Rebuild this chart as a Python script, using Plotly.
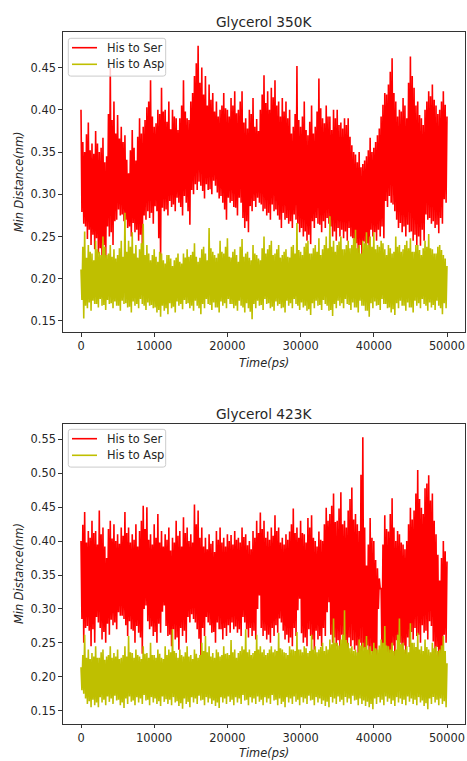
import numpy as np
import plotly.graph_objects as go

# Minimum distance traces in picometres, sampled on a 125 ps grid:
# local maxima (hi) at 0, 250, 500, ... ps and local minima (lo) at 125, 375, ... ps.
step_ps = 250

# ---- Glycerol 350K ----
ser350_hi = [
    400, 362, 350, 371, 385, 352, 360, 348, 375, 360, 350, 355, 367, 338, 345, 395, 450, 388, 410, 372,
    394, 366, 380, 362, 370, 341, 325, 352, 376, 355, 340, 368, 390, 372, 380, 388, 403, 410, 435, 392,
    380, 384, 400, 395, 426, 398, 400, 386, 410, 377, 400, 392, 390, 376, 390, 405, 435, 398, 390, 388,
    410, 420, 440, 455, 476, 432, 450, 418, 440, 405, 430, 412, 420, 398, 410, 392, 400, 405, 420, 402,
    400, 392, 414, 405, 422, 396, 400, 410, 422, 385, 390, 378, 400, 395, 414, 380, 389, 375, 400, 418,
    441, 408, 422, 400, 426, 415, 435, 405, 410, 392, 414, 398, 410, 390, 400, 372, 380, 395, 452, 388,
    380, 392, 410, 376, 370, 386, 405, 372, 380, 398, 437, 402, 390, 384, 405, 392, 392, 376, 400, 390,
    400, 382, 385, 378, 390, 382, 390, 368, 358, 350, 347, 338, 350, 332, 336, 340, 345, 352, 367, 350,
    355, 362, 370, 378, 392, 406, 420, 418, 430, 445, 461, 420, 410, 392, 400, 398, 414, 405, 390, 432,
    463, 440, 426, 405, 410, 394, 390, 382, 400, 410, 422, 416, 430, 412, 405, 395, 400, 410, 422, 406,
    392,
]
ser350_lo = [
    279, 265, 262, 247, 258, 240, 252, 235, 248, 230, 236, 217, 240, 222, 262, 250, 255, 240, 268, 270,
    282, 275, 276, 268, 270, 260, 262, 250, 266, 255, 258, 245, 252, 240, 275, 270, 280, 272, 278, 265,
    286, 280, 248, 222, 284, 280, 282, 275, 292, 285, 288, 280, 296, 290, 285, 275, 298, 290, 280, 264,
    305, 300, 312, 305, 315, 310, 304, 295, 312, 305, 306, 300, 316, 310, 302, 295, 298, 290, 282, 270,
    296, 290, 292, 285, 284, 275, 296, 290, 272, 260, 268, 255, 286, 280, 292, 285, 296, 290, 288, 280,
    283, 275, 278, 270, 288, 280, 282, 275, 270, 260, 278, 270, 272, 265, 268, 260, 276, 270, 265, 255,
    260, 250, 256, 245, 252, 241, 268, 260, 272, 265, 264, 255, 268, 260, 272, 265, 262, 250, 256, 245,
    260, 250, 258, 248, 256, 245, 260, 250, 248, 235, 242, 230, 240, 228, 244, 232, 242, 230, 258, 250,
    255, 245, 258, 250, 262, 248, 292, 285, 298, 290, 288, 280, 270, 260, 266, 255, 262, 250, 264, 255,
    256, 245, 252, 240, 250, 239, 258, 245, 276, 270, 272, 265, 268, 260, 264, 254, 272, 265, 294, 290,
]
asp350_hi = [
    211, 238, 256, 225, 240, 232, 230, 222, 245, 235, 232, 228, 250, 238, 228, 230, 240, 226, 235, 224,
    228, 236, 245, 226, 278, 232, 245, 238, 255, 230, 240, 225, 235, 242, 265, 228, 240, 230, 222, 228,
    235, 226, 220, 232, 230, 222, 218, 228, 228, 224, 215, 222, 225, 230, 220, 218, 230, 225, 235, 226,
    228, 232, 242, 226, 220, 225, 235, 238, 230, 222, 260, 236, 232, 228, 225, 230, 245, 232, 230, 238,
    248, 226, 225, 232, 235, 228, 220, 238, 247, 226, 230, 232, 225, 222, 240, 230, 228, 224, 222, 236,
    250, 230, 235, 240, 245, 228, 230, 235, 240, 225, 228, 232, 235, 226, 225, 238, 240, 230, 266, 234,
    232, 228, 238, 242, 245, 230, 230, 236, 240, 232, 248, 228, 235, 240, 250, 236, 274, 238, 245, 232,
    240, 244, 250, 235, 235, 240, 245, 236, 240, 248, 258, 236, 240, 230, 245, 242, 255, 240, 250, 238,
    255, 235, 240, 238, 245, 242, 235, 228, 240, 236, 230, 232, 250, 238, 240, 232, 235, 240, 245, 236,
    248, 232, 232, 240, 240, 234, 228, 236, 245, 238, 253, 236, 235, 230, 230, 238, 240, 234, 228, 224,
    215,
]
asp350_lo = [
    175, 153, 168, 165, 172, 162, 174, 170, 170, 166, 176, 168, 169, 163, 175, 170, 171, 165, 173, 168,
    168, 162, 174, 170, 171, 166, 167, 160, 173, 168, 170, 165, 176, 170, 168, 163, 172, 168, 169, 165,
    166, 160, 163, 155, 168, 162, 165, 158, 171, 165, 167, 160, 173, 168, 170, 164, 175, 170, 171, 165,
    168, 162, 174, 168, 165, 158, 170, 165, 176, 170, 169, 163, 172, 166, 166, 160, 173, 168, 171, 165,
    176, 170, 170, 165, 168, 162, 174, 168, 166, 160, 171, 165, 161, 152, 170, 165, 174, 168, 169, 163,
    176, 170, 171, 165, 167, 162, 173, 168, 170, 165, 166, 160, 174, 168, 171, 165, 176, 170, 168, 163,
    172, 166, 168, 162, 164, 157, 171, 165, 174, 168, 169, 163, 175, 170, 168, 162, 163, 156, 170, 165,
    174, 168, 171, 165, 176, 170, 169, 163, 172, 166, 166, 160, 174, 168, 168, 162, 162, 155, 171, 165,
    173, 168, 169, 163, 176, 170, 170, 165, 166, 160, 164, 157, 171, 165, 174, 168, 168, 162, 172, 166,
    166, 160, 174, 168, 171, 165, 176, 170, 168, 162, 172, 166, 169, 163, 174, 168, 165, 158, 171, 165,
]

# ---- Glycerol 423K ----
ser423_hi = [
    400, 424, 443, 398, 415, 405, 430, 412, 415, 395, 445, 410, 420, 392, 375, 418, 430, 404, 425, 400,
    410, 396, 420, 408, 443, 412, 420, 398, 410, 402, 425, 392, 415, 430, 452, 418, 450, 402, 410, 395,
    425, 405, 440, 398, 415, 392, 410, 402, 420, 386, 405, 398, 430, 408, 415, 392, 435, 412, 420, 400,
    410, 398, 454, 425, 445, 405, 420, 392, 405, 388, 410, 396, 400, 384, 415, 402, 420, 398, 405, 392,
    410, 400, 409, 395, 415, 402, 405, 398, 420, 406, 410, 394, 400, 388, 415, 405, 430, 412, 442, 418,
    430, 405, 414, 402, 420, 408, 438, 415, 420, 398, 405, 395, 410, 402, 414, 425, 448, 412, 420, 405,
    430, 412, 410, 398, 434, 420, 438, 405, 400, 392, 414, 402, 400, 425, 449, 430, 440, 452, 470, 428,
    430, 448, 472, 425, 430, 420, 445, 462, 479, 432, 440, 425, 415, 498, 553, 420, 364, 395, 434, 405,
    400, 372, 360, 345, 330, 395, 438, 418, 414, 440, 463, 420, 400, 415, 410, 398, 395, 388, 400, 425,
    449, 432, 445, 470, 505, 462, 449, 440, 478, 485, 497, 460, 470, 430, 410, 380, 342, 375, 400, 385,
    370,
]
ser423_lo = [
    285, 250, 272, 275, 268, 245, 270, 250, 288, 280, 272, 255, 266, 250, 278, 262, 284, 276, 280, 270,
    295, 290, 290, 285, 276, 260, 282, 270, 268, 250, 275, 265, 258, 234, 300, 305, 282, 270, 274, 260,
    266, 250, 278, 265, 296, 305, 275, 260, 262, 245, 270, 255, 258, 240, 272, 260, 268, 250, 288, 280,
    292, 285, 280, 270, 256, 231, 272, 260, 288, 280, 276, 265, 266, 250, 280, 270, 270, 255, 272, 260,
    276, 265, 280, 270, 274, 265, 270, 260, 288, 280, 270, 258, 272, 260, 268, 255, 300, 320, 272, 260,
    268, 255, 262, 250, 272, 260, 276, 265, 286, 280, 268, 255, 262, 250, 258, 245, 272, 260, 298, 315,
    264, 250, 258, 245, 270, 260, 255, 240, 268, 255, 260, 245, 272, 260, 295, 310, 262, 250, 258, 245,
    254, 240, 262, 250, 250, 235, 258, 245, 254, 240, 246, 230, 250, 235, 242, 224, 246, 230, 238, 220,
    232, 215, 300, 330, 234, 214, 238, 220, 232, 215, 246, 230, 254, 240, 250, 235, 246, 230, 258, 244,
    266, 255, 272, 260, 262, 250, 276, 265, 268, 255, 282, 275, 252, 234, 244, 225, 232, 210, 262, 250,
]
asp423_hi = [
    214, 232, 262, 228, 240, 226, 235, 230, 245, 228, 228, 236, 240, 225, 230, 232, 245, 228, 235, 230,
    240, 226, 228, 232, 245, 230, 260, 236, 235, 228, 240, 232, 230, 226, 245, 234, 235, 228, 250, 232,
    232, 228, 240, 234, 228, 226, 245, 232, 240, 236, 270, 238, 235, 228, 240, 232, 230, 236, 245, 230,
    232, 226, 240, 234, 228, 232, 250, 238, 260, 236, 245, 230, 235, 228, 240, 236, 230, 232, 245, 234,
    235, 232, 254, 236, 240, 228, 235, 238, 245, 240, 270, 236, 240, 232, 235, 238, 262, 240, 245, 236,
    240, 232, 235, 240, 245, 236, 240, 238, 265, 242, 240, 236, 235, 232, 245, 240, 240, 238, 266, 240,
    240, 236, 245, 242, 235, 238, 262, 240, 245, 236, 240, 244, 250, 238, 245, 240, 255, 248, 286, 250,
    250, 246, 255, 262, 298, 254, 250, 242, 245, 238, 240, 236, 255, 246, 250, 244, 260, 240, 245, 238,
    250, 242, 240, 246, 255, 250, 275, 246, 245, 240, 250, 238, 240, 262, 286, 248, 250, 240, 245, 236,
    279, 250, 250, 244, 265, 240, 245, 238, 255, 244, 240, 236, 250, 242, 245, 238, 240, 246, 260, 238,
    220,
]
asp423_lo = [
    180, 175, 168, 160, 164, 155, 166, 158, 162, 155, 170, 162, 166, 158, 171, 163, 168, 160, 172, 165,
    166, 158, 162, 154, 168, 160, 171, 163, 165, 158, 170, 162, 168, 160, 173, 165, 166, 158, 170, 162,
    168, 160, 164, 157, 171, 163, 167, 160, 166, 158, 170, 162, 164, 157, 161, 153, 168, 160, 163, 155,
    170, 162, 168, 160, 172, 165, 166, 158, 170, 162, 168, 160, 165, 157, 162, 154, 170, 162, 168, 160,
    171, 163, 166, 158, 170, 162, 168, 160, 173, 165, 166, 158, 170, 162, 168, 160, 171, 163, 166, 158,
    170, 162, 168, 160, 173, 165, 166, 158, 168, 160, 163, 155, 170, 162, 168, 160, 171, 163, 166, 158,
    170, 162, 168, 160, 172, 165, 166, 158, 170, 162, 168, 160, 165, 157, 163, 155, 170, 162, 168, 160,
    171, 163, 166, 158, 170, 162, 168, 160, 172, 165, 166, 158, 168, 160, 165, 157, 163, 155, 160, 152,
    168, 160, 170, 162, 166, 158, 171, 163, 168, 160, 165, 157, 170, 162, 168, 160, 166, 158, 171, 163,
    168, 160, 166, 158, 170, 162, 165, 157, 161, 152, 168, 160, 170, 162, 166, 158, 168, 160, 164, 155,
]

x_ticks = [0, 10000, 20000, 30000, 40000, 50000]
y_ticks_350 = [0.15, 0.20, 0.25, 0.30, 0.35, 0.40, 0.45]
y_ticks_423 = [0.15, 0.20, 0.25, 0.30, 0.35, 0.40, 0.45, 0.50, 0.55]
legend_names = ["His to Ser", "His to Asp"]

RED = "#ff0000"
OLIVE = "#bfbf00"
TEXT = "#262626"
FONT = "DejaVu Sans"
W, H = 467, 761


def series(hi, lo):
    """Merge maxima / minima (pm) into one time-ordered trace in nm."""
    t_hi = np.arange(len(hi)) * step_ps
    t_lo = np.arange(len(lo)) * step_ps + step_ps / 2
    t = np.empty(len(hi) + len(lo))
    v = np.empty(len(hi) + len(lo))
    t[0::2], v[0::2] = t_hi, hi
    t[1::2], v[1::2] = t_lo, lo
    return t, v / 1000.0


def py(px):
    return 1 - px / H


def px_x(px):
    return px / W


fig = go.Figure()

panels = [
    dict(data=[(ser350_hi, ser350_lo), (asp350_hi, asp350_lo)], xa="x", ya="y"),
    dict(data=[(ser423_hi, ser423_lo), (asp423_hi, asp423_lo)], xa="x2", ya="y2"),
]
for p in panels:
    for (hi, lo), name, color in zip(p["data"], legend_names, [RED, OLIVE]):
        t, v = series(hi, lo)
        fig.add_trace(go.Scatter(x=t, y=v, mode="lines", name=name,
                                 line=dict(color=color, width=1.6),
                                 xaxis=p["xa"], yaxis=p["ya"], showlegend=False))

tick_font = dict(family=FONT, size=11.4, color=TEXT)
axis_common = dict(showline=True, linecolor="#333333", linewidth=1, mirror=True,
                   ticks="outside", ticklen=3.5, tickwidth=0.9, tickcolor="#333333",
                   showgrid=False, zeroline=False, tickfont=tick_font)

xdom = [px_x(62.7), px_x(465.3)]
top_dom = [py(332.3), py(32.3)]
bot_dom = [py(723.7), py(424.3)]

fig.update_layout(
    width=W, height=H, autosize=False,
    margin=dict(l=0, r=0, t=0, b=0),
    paper_bgcolor="white", plot_bgcolor="white",
    font=dict(family=FONT, color=TEXT),
    showlegend=False,
    xaxis=dict(domain=xdom, range=[-2500, 52500], tickvals=x_ticks, tickformat="d",
               anchor="y", **axis_common),
    yaxis=dict(domain=top_dom, range=[0.1366, 0.4918], tickvals=y_ticks_350,
               tickformat=".2f", anchor="x", **axis_common),
    xaxis2=dict(domain=xdom, range=[-2500, 52500], tickvals=x_ticks, tickformat="d",
                anchor="y2", **axis_common),
    yaxis2=dict(domain=bot_dom, range=[0.1308, 0.5722], tickvals=y_ticks_423,
                tickformat=".2f", anchor="x2", **axis_common),
)


def rounded_box(x0, y0, x1, y1, r=2.5):
    """SVG path (paper coords) for a rounded rectangle given in pixels."""
    X = lambda v: f"{px_x(v):.5f}"
    Y = lambda v: f"{py(v):.5f}"
    return (f"M {X(x0 + r)},{Y(y0)} L {X(x1 - r)},{Y(y0)} Q {X(x1)},{Y(y0)} {X(x1)},{Y(y0 + r)} "
            f"L {X(x1)},{Y(y1 - r)} Q {X(x1)},{Y(y1)} {X(x1 - r)},{Y(y1)} "
            f"L {X(x0 + r)},{Y(y1)} Q {X(x0)},{Y(y1)} {X(x0)},{Y(y1 - r)} "
            f"L {X(x0)},{Y(y0 + r)} Q {X(x0)},{Y(y0)} {X(x0 + r)},{Y(y0)} Z")


# Legend boxes (one per panel), drawn in the upper-left corner of each axes
for top in (38.3, 429.3):
    fig.add_shape(type="path", path=rounded_box(68.3, top, 165.7, top + 37.8),
                  xref="paper", yref="paper", fillcolor="rgba(255,255,255,0.8)",
                  line=dict(color="#cccccc", width=1), layer="above")
    for k, (name, color) in enumerate(zip(legend_names, [RED, OLIVE])):
        yk = top + 9.4 + 16.6 * k
        fig.add_shape(type="line", x0=px_x(72), x1=px_x(97), y0=py(yk), y1=py(yk),
                      xref="paper", yref="paper", line=dict(color=color, width=1.6),
                      layer="above")
        fig.add_annotation(text=name, x=px_x(104.5), y=py(yk), xref="paper", yref="paper",
                           xanchor="left", yanchor="middle", showarrow=False,
                           font=dict(family=FONT, size=11.4, color=TEXT))

xc = px_x((62.7 + 465.3) / 2)
notes = [
    ("Glycerol 350K", xc, py(22.5), 13.7, 0),
    ("Glycerol 423K", xc, py(413.5), 13.7, 0),
    ("<i>Time(ps)</i>", xc, py(362.5), 11.4, 0),
    ("<i>Time(ps)</i>", xc, py(752.5), 11.4, 0),
    ("<i>Min Distance(nm)</i>", px_x(19), py(182.3), 11.4, -90),
    ("<i>Min Distance(nm)</i>", px_x(19), py(574), 11.4, -90),
]
for text, x, y, size, angle in notes:
    fig.add_annotation(text=text, x=x, y=y, xref="paper", yref="paper",
                       xanchor="center", yanchor="middle", showarrow=False,
                       textangle=angle, font=dict(family=FONT, size=size, color=TEXT))

fig.write_html("out.html")
